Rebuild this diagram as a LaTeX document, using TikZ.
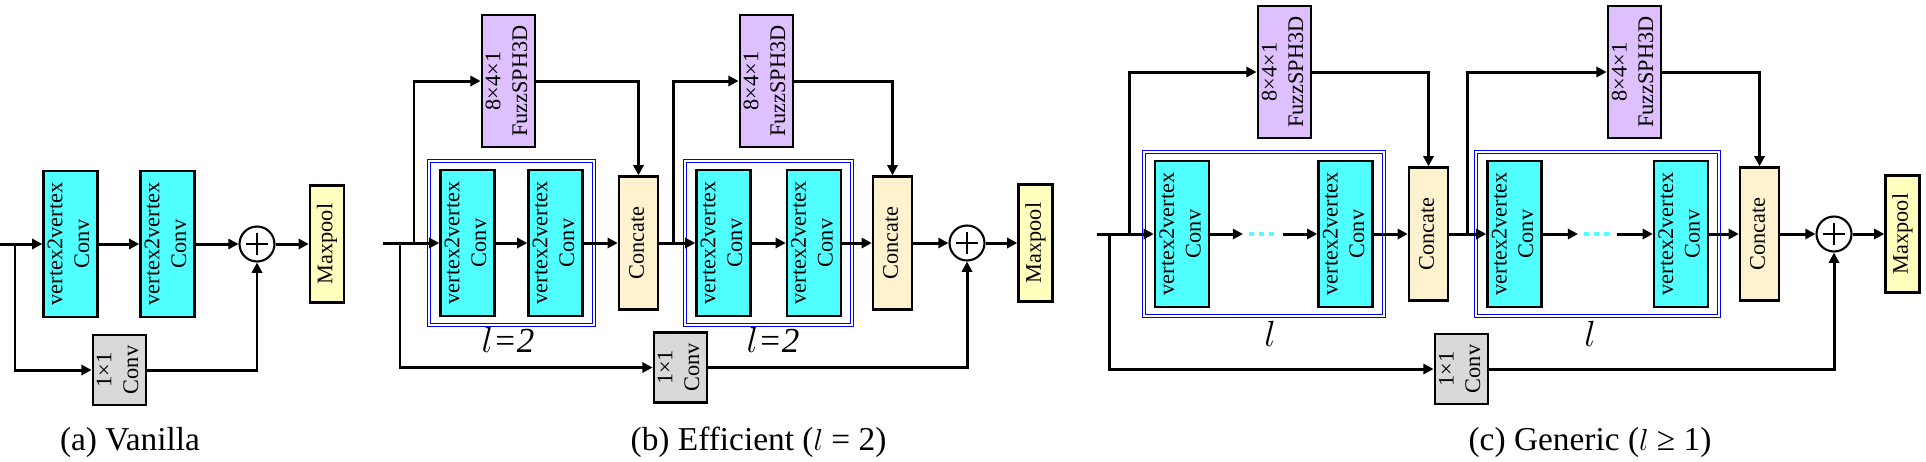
\documentclass[tikz,border=0pt]{standalone}
\usepackage{fontspec}
\setmainfont{Liberation Serif}
\usetikzlibrary{arrows.meta,fit}

\definecolor{convcyan}{RGB}{80,255,255}
\definecolor{fuzzpurple}{RGB}{222,192,255}
\definecolor{catbeige}{RGB}{255,242,206}
\definecolor{poolyellow}{RGB}{255,255,190}
\definecolor{onegray}{RGB}{217,217,217}

\newcommand{\vlabel}[1]{\rotatebox{90}{\begin{tabular}{@{}c@{}}#1\end{tabular}}}

\tikzset{
  >={Triangle[length=5.8pt,width=5.8pt]},
  blk/.style={draw, line width=1.4pt, inner sep=0pt, font=\fontsize{12.7}{15.2}\selectfont},
  vconv/.style={blk, fill=convcyan, minimum width=1.08cm, minimum height=2.92cm},
  fuzz/.style={blk, fill=fuzzpurple, minimum width=1.06cm, minimum height=2.64cm},
  concat/.style={blk, fill=catbeige, minimum width=0.78cm, minimum height=2.66cm},
  pool/.style={blk, fill=poolyellow, minimum width=0.68cm, minimum height=2.34cm},
  oneconv/.style={blk, fill=onegray, minimum width=1.06cm, minimum height=1.40cm},
  addop/.style={circle, draw, line width=1.2pt, minimum size=0.7cm, inner sep=0pt,
    path picture={\draw[line width=1.6pt]
      ([yshift=-3.8pt]path picture bounding box.north) -- ([yshift=3.8pt]path picture bounding box.south)
      ([xshift=3.8pt]path picture bounding box.west) -- ([xshift=-3.8pt]path picture bounding box.east);}},
  arr/.style={->, line width=1.7pt},
  lgroup/.style={draw=blue, double=white, line width=0.5pt, double distance=1.3pt,
    inner xsep=0.2cm, inner ysep=0.15cm},
  skipdots/.style={convcyan, line width=2.2pt, dash pattern=on 2.8pt off 2.8pt},
  caption/.style={font=\fontsize{19}{22}\selectfont, anchor=base},
  reps/.style={font=\fontsize{20}{24}\selectfont\itshape, anchor=base}
}

\begin{document}
\begin{tikzpicture}[x=0.02cm,y=-0.02cm]
  \useasboundingbox (0,0) rectangle (1926,461);

  % (a) vanilla
  \coordinate (ain) at (0,244);
  \coordinate (abr) at (15,244);
  \node[vconv]   (a1)    at (70.5,244)  {\vlabel{vertex2vertex\\Conv}};
  \node[vconv]   (a2)    at (167.5,244) {\vlabel{vertex2vertex\\Conv}};
  \node[addop]   (aplus) at (257,244)   {};
  \node[pool]    (apool) at (327,244)   {\vlabel{Maxpool}};
  \node[oneconv] (aconv) at (119.5,370) {\vlabel{1×1\\Conv}};
  \draw[arr] (ain) -- (a1);
  \draw[arr] (a1) -- (a2);
  \draw[arr] (a2) -- (aplus);
  \draw[arr] (aplus) -- (apool);
  \draw[arr] (abr) |- (aconv);
  \draw[arr] (aconv) -| (aplus);
  \node[caption] (acap) at (130,450) {(a) Vanilla};

  % (b) efficient
  \coordinate (bin)   at (383,243);
  \coordinate (bdown) at (400,243);
  \coordinate (bup1)  at (414,243);
  \coordinate (bup2)  at (673,243);
  \node[vconv]   (b1)     at (467.5,243) {\vlabel{vertex2vertex\\Conv}};
  \node[vconv]   (b2)     at (555.5,243) {\vlabel{vertex2vertex\\Conv}};
  \node[concat]  (bcat1)  at (638.5,243) {\vlabel{Concate}};
  \node[vconv]   (b3)     at (723.5,243) {\vlabel{vertex2vertex\\Conv}};
  \node[vconv]   (b4)     at (814,243)   {\vlabel{vertex2vertex\\Conv}};
  \node[concat]  (bcat2)  at (892.5,243) {\vlabel{Concate}};
  \node[addop]   (bplus)  at (967,243)   {};
  \node[pool]    (bpool)  at (1035.5,243) {\vlabel{Maxpool}};
  \node[fuzz]    (bfuzz1) at (508.5,81)  {\vlabel{8×4×1\\FuzzSPH3D}};
  \node[fuzz]    (bfuzz2) at (766.5,81)  {\vlabel{8×4×1\\FuzzSPH3D}};
  \node[oneconv] (bconv)  at (680.5,367.5) {\vlabel{1×1\\Conv}};
  \node[lgroup, fit=(b1)(b2)] (bgrp1) {};
  \node[lgroup, fit=(b3)(b4)] (bgrp2) {};
  \node[reps] (brep1) at (508,352) {$l$=2};
  \node[reps] (brep2) at (773,352) {$l$=2};
  \draw[arr] (bin) -- (b1);
  \draw[arr] (b1) -- (b2);
  \draw[arr] (b2) -- (bcat1);
  \draw[arr] (bcat1) -- (b3);
  \draw[arr] (b3) -- (b4);
  \draw[arr] (b4) -- (bcat2);
  \draw[arr] (bcat2) -- (bplus);
  \draw[arr] (bplus) -- (bpool);
  \draw[arr] (bup1) |- (bfuzz1);
  \draw[arr] (bfuzz1) -| (bcat1);
  \draw[arr] (bup2) |- (bfuzz2);
  \draw[arr] (bfuzz2) -| (bcat2);
  \draw[arr] (bdown) |- (bconv);
  \draw[arr] (bconv) -| (bplus);
  \node[caption] (bcap) at (758.5,450) {(b) Efficient ($l$ = 2)};

  % (c) generic
  \coordinate (cin)   at (1097,234);
  \coordinate (cdown) at (1109,234);
  \coordinate (cup1)  at (1129,234);
  \coordinate (cup2)  at (1467,234);
  \coordinate (cga)  at (1243,234);
  \coordinate (cgb)  at (1249,234);
  \coordinate (cgc)  at (1275,234);
  \coordinate (cgd)  at (1283,234);
  \coordinate (cha)  at (1578,234);
  \coordinate (chb)  at (1584,234);
  \coordinate (chc)  at (1610,234);
  \coordinate (chd)  at (1617,234);
  \node[vconv]   (c1)     at (1182,234)   {\vlabel{vertex2vertex\\Conv}};
  \node[vconv]   (c2)     at (1345.5,234) {\vlabel{vertex2vertex\\Conv}};
  \node[concat]  (ccat1)  at (1428.5,234) {\vlabel{Concate}};
  \node[vconv]   (c3)     at (1514.5,234) {\vlabel{vertex2vertex\\Conv}};
  \node[vconv]   (c4)     at (1681,234)   {\vlabel{vertex2vertex\\Conv}};
  \node[concat]  (ccat2)  at (1759.5,234) {\vlabel{Concate}};
  \node[addop]   (cplus)  at (1834,234)   {};
  \node[pool]    (cpool)  at (1902.5,234) {\vlabel{Maxpool}};
  \node[fuzz]    (cfuzz1) at (1284.5,72)  {\vlabel{8×4×1\\FuzzSPH3D}};
  \node[fuzz]    (cfuzz2) at (1634.5,72)  {\vlabel{8×4×1\\FuzzSPH3D}};
  \node[oneconv] (cconv)  at (1461.5,369) {\vlabel{1×1\\Conv}};
  \node[lgroup, fit=(c1)(c2)] (cgrp1) {};
  \node[lgroup, fit=(c3)(c4)] (cgrp2) {};
  \node[reps] (crep1) at (1270,346) {$l$};
  \node[reps] (crep2) at (1590,346) {$l$};
  \draw[arr] (cin) -- (c1);
  \draw[arr] (c1) -- (cga);
  \draw[skipdots] (cgb) -- (cgc);
  \draw[arr] (cgd) -- (c2);
  \draw[arr] (c2) -- (ccat1);
  \draw[arr] (ccat1) -- (c3);
  \draw[arr] (c3) -- (cha);
  \draw[skipdots] (chb) -- (chc);
  \draw[arr] (chd) -- (c4);
  \draw[arr] (c4) -- (ccat2);
  \draw[arr] (ccat2) -- (cplus);
  \draw[arr] (cplus) -- (cpool);
  \draw[arr] (cup1) |- (cfuzz1);
  \draw[arr] (cfuzz1) -| (ccat1);
  \draw[arr] (cup2) |- (cfuzz2);
  \draw[arr] (cfuzz2) -| (ccat2);
  \draw[arr] (cdown) |- (cconv);
  \draw[arr] (cconv) -| (cplus);
  \node[caption] (ccap) at (1590,450) {(c) Generic ($l$ ≥ 1)};
\end{tikzpicture}
\end{document}
